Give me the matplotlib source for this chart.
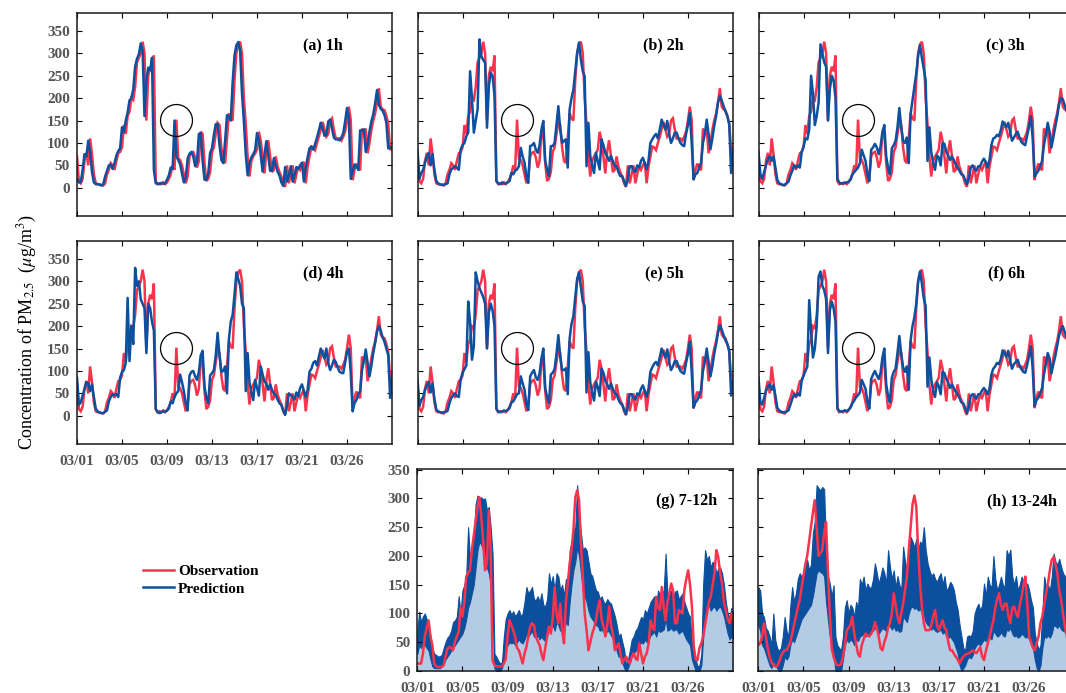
import numpy as np
import matplotlib
matplotlib.use("Agg")
import matplotlib.pyplot as plt
from matplotlib.lines import Line2D

# ---------------------------------------------------------------------------
# PM2.5 concentration (ug/m3), one value every 4 hours starting 03/01 00:00
# ---------------------------------------------------------------------------
STEP_HOURS = 4
tick_hours = [0, 96, 192, 288, 384, 480, 576]
tick_labels = ["03/01", "03/05", "03/09", "03/13", "03/17", "03/21", "03/26"]
y_ticks = [0, 50, 100, 150, 200, 250, 300, 350]

observation = [
    70, 15, 10, 20, 60, 78,
    50, 110, 75, 30, 10, 8,
    8, 6, 5, 10, 30, 40,
    55, 50, 40, 60, 77, 80,
    90, 140, 120, 160, 170, 200,
    196, 225, 280, 290, 300, 326,
    300, 150, 250, 270, 260, 295,
    15, 8, 10, 8, 12, 8,
    12, 20, 30, 50, 40, 152,
    65, 62, 50, 30, 10, 25,
    70, 78, 80, 68, 45, 60,
    125, 120, 55, 15, 20, 35,
    80, 90, 120, 145, 140, 90,
    60, 55, 110, 166, 155, 150,
    240, 300, 320, 326, 300, 200,
    143, 70, 25, 60, 70, 77,
    85, 125, 105, 70, 32, 80,
    106, 70, 35, 40, 70, 47,
    35, 25, 10, 2, 50, 10,
    30, 50, 10, 30, 47, 40,
    50, 58, 10, 47, 70, 92,
    90, 84, 100, 114, 130, 147,
    130, 114, 120, 150, 155, 130,
    110, 110, 110, 105, 114, 125,
    150, 181, 151, 17, 40, 54,
    45, 39, 132, 125, 132, 77,
    100, 129, 150, 166, 190, 222,
    181, 175, 173, 160, 143, 84, 92,
]

pred_1h = [
    20, 12, 12, 40, 75, 70,
    105, 80, 35, 12, 8, 8,
    7, 5, 8, 25, 38, 50,
    52, 42, 55, 72, 82, 88,
    135, 125, 150, 168, 195, 200,
    220, 270, 288, 298, 322, 305,
    160, 240, 268, 262, 290, 40,
    10, 9, 8, 11, 9, 10,
    18, 28, 45, 42, 150, 70,
    62, 52, 32, 12, 22, 65,
    76, 80, 70, 48, 58, 120,
    122, 60, 18, 18, 32, 78,
    88, 118, 142, 142, 95, 62,
    55, 105, 162, 158, 150, 235,
    295, 318, 325, 305, 210, 148,
    75, 28, 55, 68, 75, 84,
    122, 108, 72, 36, 75, 104,
    72, 38, 38, 66, 50, 36,
    27, 12, 4, 46, 14, 28,
    48, 14, 28, 46, 42, 50,
    56, 14, 45, 68, 88, 92,
    85, 98, 112, 128, 145, 132,
    116, 118, 148, 152, 132, 112,
    108, 108, 106, 112, 122, 148,
    178, 155, 20, 36, 52, 48,
    40, 128, 127, 130, 80, 98,
    126, 148, 164, 188, 218, 185,
    176, 172, 162, 145, 88, 90, 88,
]

pred_2h = [
    85, 20, 33, 40, 56, 70,
    78, 50, 75, 40, 15, 10,
    7, 7, 7, 8, 10, 30,
    41, 45, 48, 45, 40, 86,
    95, 100, 115, 123, 260, 200,
    123, 150, 175, 331, 294, 285,
    279, 134, 227, 257, 249, 205,
    15, 10, 8, 12, 9, 10,
    12, 15, 33, 30, 38, 41,
    48, 89, 70, 56, 25, 11,
    93, 95, 100, 85, 78, 95,
    130, 149, 60, 41, 26, 93,
    93, 100, 140, 182, 130, 100,
    105, 108, 45, 175, 200, 219,
    260, 300, 324, 286, 260, 249,
    48, 145, 71, 50, 33, 78,
    60, 41, 108, 95, 78, 70,
    60, 71, 60, 48, 48, 35,
    26, 26, 15, 4, 20, 48,
    48, 40, 35, 50, 45, 60,
    67, 55, 41, 60, 100, 108,
    115, 120, 110, 130, 152, 140,
    130, 149, 120, 100, 110, 123,
    123, 110, 100, 95, 93, 120,
    140, 167, 100, 19, 30, 33,
    45, 56, 100, 120, 152, 120,
    86, 110, 138, 160, 190, 205,
    195, 182, 170, 160, 141, 33, 86,
]

pred_3h = [
    80, 30, 20, 35, 50, 65,
    70, 60, 70, 45, 18, 10,
    8, 6, 7, 10, 14, 28,
    38, 50, 45, 50, 45, 80,
    92, 110, 108, 130, 250, 210,
    140, 160, 190, 320, 300, 280,
    270, 150, 220, 250, 240, 200,
    20, 12, 9, 11, 10, 12,
    14, 18, 30, 35, 40, 45,
    55, 85, 72, 60, 30, 15,
    85, 90, 98, 90, 75, 92,
    125, 140, 70, 45, 30, 88,
    95, 105, 135, 178, 135, 105,
    100, 112, 55, 165, 195, 225,
    255, 295, 318, 290, 265, 240,
    60, 135, 80, 55, 40, 72,
    68, 50, 100, 98, 80, 72,
    62, 70, 62, 52, 45, 38,
    30, 28, 18, 8, 22, 45,
    50, 42, 38, 48, 48, 58,
    65, 58, 45, 62, 95, 110,
    112, 118, 115, 128, 148, 142,
    135, 145, 125, 105, 112, 120,
    125, 112, 102, 98, 95, 115,
    135, 160, 110, 25, 32, 38,
    48, 60, 95, 118, 145, 125,
    90, 112, 135, 158, 185, 200,
    198, 185, 172, 165, 150, 170, 175,
]

pred_4h = [
    85, 25, 30, 45, 60, 75,
    72, 55, 70, 42, 16, 10,
    7, 6, 6, 9, 12, 32,
    42, 48, 46, 48, 42, 85,
    98, 102, 118, 263, 122, 200,
    160, 330, 290, 300, 260, 250,
    240, 140, 250, 240, 210, 190,
    15, 8, 6, 8, 10, 9,
    12, 16, 32, 28, 42, 50,
    55, 92, 75, 55, 28, 12,
    90, 98, 100, 88, 80, 98,
    135, 145, 65, 40, 28, 90,
    95, 102, 135, 185, 135, 98,
    100, 110, 50, 170, 210, 225,
    270, 320, 305, 290, 250, 240,
    55, 140, 75, 52, 35, 80,
    62, 45, 110, 92, 76, 72,
    58, 70, 58, 50, 46, 36,
    28, 24, 12, 2, 22, 50,
    46, 42, 36, 52, 44, 62,
    70, 55, 42, 58, 98, 105,
    118, 122, 112, 132, 150, 138,
    128, 150, 118, 102, 112, 125,
    120, 108, 98, 96, 95, 118,
    142, 150, 95, 10, 28, 35,
    48, 55, 102, 122, 148, 118,
    88, 112, 140, 162, 188, 200,
    190, 175, 165, 150, 135, 40, 85,
]

pred_5h = [
    82, 22, 35, 42, 58, 68,
    75, 52, 72, 38, 14, 10,
    8, 7, 8, 9, 11, 28,
    40, 46, 50, 44, 42, 82,
    96, 104, 112, 255, 210, 125,
    155, 320, 300, 285, 275, 265,
    250, 150, 230, 250, 235, 200,
    16, 9, 8, 10, 10, 11,
    13, 17, 30, 32, 40, 48,
    50, 88, 72, 58, 26, 13,
    88, 96, 102, 86, 80, 94,
    128, 150, 62, 42, 28, 92,
    96, 104, 138, 180, 132, 102,
    102, 106, 48, 172, 205, 222,
    265, 305, 320, 288, 255, 245,
    52, 142, 74, 52, 34, 76,
    64, 44, 105, 96, 78, 70,
    60, 72, 60, 50, 48, 36,
    28, 25, 14, 3, 20, 48,
    48, 40, 36, 50, 46, 60,
    68, 56, 42, 60, 98, 108,
    116, 120, 112, 130, 150, 140,
    130, 148, 120, 102, 110, 122,
    122, 110, 100, 96, 94, 118,
    138, 165, 98, 18, 30, 35,
    46, 58, 100, 120, 150, 120,
    88, 110, 138, 160, 185, 202,
    192, 180, 168, 160, 145, 45, 80,
]

pred_6h = [
    85, 30, 25, 40, 55, 65,
    70, 58, 68, 45, 18, 12,
    9, 8, 8, 10, 12, 25,
    38, 48, 44, 50, 45, 78,
    90, 100, 110, 258, 190, 130,
    150, 200, 310, 322, 290, 280,
    260, 140, 235, 255, 240, 210,
    18, 10, 9, 10, 12, 10,
    14, 18, 28, 34, 42, 46,
    52, 80, 70, 60, 30, 16,
    82, 92, 100, 90, 82, 96,
    130, 150, 70, 45, 30, 85,
    98, 105, 140, 178, 138, 108,
    98, 110, 58, 168, 200, 220,
    250, 300, 322, 295, 262, 245,
    65, 130, 82, 55, 42, 75,
    66, 48, 98, 95, 82, 74,
    62, 70, 62, 54, 48, 40,
    30, 28, 18, 6, 20, 44,
    48, 42, 38, 48, 48, 56,
    62, 56, 48, 60, 92, 105,
    110, 118, 115, 126, 146, 140,
    132, 145, 122, 105, 115, 120,
    125, 112, 104, 98, 96, 112,
    132, 155, 105, 22, 35, 40,
    50, 62, 92, 115, 140, 128,
    95, 115, 132, 155, 178, 192,
    200, 188, 175, 165, 150, 80, 160,
]

# 7-12h horizon: observation and the spread (low/high) of the predictions
obs_7_12h = [
    13, 13, 13, 30, 60, 75,
    88, 60, 45, 13, 8, 7,
    7, 7, 10, 25, 38, 42,
    40, 36, 50, 60, 68, 110,
    95, 120, 164, 170, 175, 210,
    235, 260, 285, 302, 268, 227,
    175, 187, 279, 210, 19, 10,
    8, 8, 8, 8, 13, 20,
    60, 88, 80, 71, 60, 40,
    36, 25, 13, 30, 42, 60,
    77, 83, 80, 60, 52, 45,
    30, 19, 40, 60, 77, 65,
    90, 146, 100, 83, 117, 70,
    48, 120, 152, 187, 210, 245,
    302, 314, 297, 222, 164, 100,
    71, 36, 50, 65, 75, 88,
    110, 123, 90, 77, 60, 80,
    112, 80, 65, 36, 42, 48,
    30, 13, 20, 25, 18, 13,
    25, 31, 22, 19, 48, 30,
    13, 25, 31, 48, 88, 75,
    71, 129, 110, 106, 146, 110,
    88, 120, 135, 152, 140, 83,
    83, 106, 103, 100, 141, 160,
    175, 150, 112, 42, 20, 19,
    40, 48, 60, 80, 100, 120,
    129, 150, 170, 210, 198, 170,
    152, 120, 106, 90, 83, 100, 88,
]

low_7_12h = [
    30, 45, 40, 50, 45, 40,
    35, 20, 8, 5, 5, 5,
    5, 8, 12, 20, 25, 30,
    35, 40, 45, 50, 55, 60,
    65, 75, 90, 110, 120, 135,
    150, 180, 210, 225, 220, 210,
    200, 180, 170, 150, 100, 5,
    0, 0, 0, 5, 20, 35,
    45, 50, 48, 50, 45, 50,
    55, 50, 48, 55, 65, 60,
    65, 70, 60, 58, 62, 55,
    60, 55, 52, 60, 80, 75,
    80, 70, 85, 80, 70, 75,
    70, 85, 80, 120, 150, 175,
    190, 215, 200, 170, 140, 130,
    120, 105, 95, 90, 85, 80,
    78, 70, 72, 68, 65, 70,
    68, 62, 55, 48, 35, 25,
    25, 15, 5, 0, 5, 15,
    25, 30, 35, 38, 45, 50,
    48, 55, 50, 55, 62, 65,
    68, 60, 72, 68, 70, 72,
    90, 70, 72, 75, 70, 72,
    72, 65, 68, 70, 62, 55,
    50, 45, 20, 10, 0, 0,
    0, 10, 60, 100, 110, 115,
    105, 110, 112, 105, 110, 112,
    105, 95, 80, 65, 55, 60, 55,
]

high_7_12h = [
    70, 103, 85, 95, 100, 90,
    83, 60, 40, 30, 28, 25,
    26, 28, 40, 50, 58, 62,
    70, 85, 88, 94, 130, 100,
    140, 150, 164, 250, 195, 215,
    233, 290, 305, 300, 302, 298,
    300, 280, 285, 250, 204, 30,
    25, 18, 13, 15, 60, 90,
    100, 106, 98, 104, 95, 100,
    106, 95, 100, 120, 146, 135,
    140, 146, 125, 123, 130, 120,
    135, 115, 112, 125, 170, 150,
    165, 140, 170, 164, 140, 150,
    130, 160, 135, 210, 225, 245,
    250, 323, 268, 240, 210, 215,
    210, 190, 170, 165, 152, 140,
    138, 125, 130, 120, 117, 125,
    120, 117, 106, 95, 80, 60,
    65, 50, 36, 10, 20, 36,
    55, 60, 70, 75, 85, 94,
    90, 106, 100, 110, 120, 125,
    130, 115, 140, 130, 135, 140,
    204, 129, 135, 140, 130, 138,
    140, 125, 130, 135, 120, 110,
    100, 94, 48, 36, 20, 8,
    10, 30, 152, 210, 193, 200,
    180, 190, 185, 170, 178, 180,
    170, 150, 120, 100, 94, 110, 100,
]

# 13-24h horizon
obs_13_24h = [
    45, 48, 60, 83, 60, 40,
    25, 15, 10, 8, 8, 15,
    25, 32, 36, 36, 42, 50,
    65, 80, 95, 110, 123, 145,
    165, 185, 200, 225, 250, 275,
    297, 250, 200, 205, 210, 240,
    259, 175, 100, 40, 25, 15,
    10, 10, 12, 25, 45, 70,
    75, 80, 94, 65, 48, 30,
    25, 45, 55, 65, 62, 60,
    65, 71, 85, 75, 60, 40,
    36, 50, 60, 75, 83, 100,
    135, 115, 95, 83, 100, 117,
    140, 164, 210, 250, 290, 305,
    285, 210, 152, 110, 83, 71,
    71, 71, 80, 94, 106, 80,
    71, 80, 88, 75, 71, 50,
    36, 36, 30, 25, 20, 13,
    20, 25, 28, 30, 31, 33,
    36, 33, 31, 36, 42, 25,
    19, 35, 48, 60, 75, 88,
    110, 125, 135, 115, 106, 117,
    117, 95, 83, 110, 112, 100,
    94, 115, 129, 150, 164, 117,
    60, 50, 40, 36, 48, 60,
    83, 95, 115, 135, 152, 175,
    193, 198, 185, 170, 140, 123,
    100, 77, 60, 50, 45, 40, 40,
]

low_13_24h = [
    80, 70, 45, 40, 30, 20,
    10, 5, 20, 10, 5, 0,
    0, 10, 25, 20, 25, 45,
    55, 50, 60, 70, 80, 90,
    95, 100, 105, 110, 115, 130,
    150, 170, 175, 172, 170, 165,
    120, 90, 60, 40, 30, 0,
    0, 0, 0, 20, 45, 55,
    50, 55, 52, 45, 55, 52,
    60, 62, 65, 60, 65, 62,
    68, 70, 75, 72, 65, 70,
    75, 72, 70, 80, 78, 72,
    78, 70, 72, 68, 70, 95,
    90, 85, 100, 110, 112, 108,
    110, 105, 108, 100, 95, 85,
    80, 78, 72, 75, 70, 68,
    70, 72, 65, 68, 60, 58,
    60, 55, 50, 40, 30, 10,
    0, 5, 10, 20, 25, 22,
    28, 40, 45, 48, 45, 50,
    55, 52, 60, 58, 55, 70,
    65, 60, 62, 68, 62, 60,
    72, 70, 75, 65, 60, 62,
    58, 60, 65, 62, 58, 60,
    55, 48, 40, 20, 5, 0,
    10, 40, 60, 58, 62, 58,
    65, 80, 78, 75, 80, 72,
    70, 68, 65, 62, 60, 58, 55,
]

high_13_24h = [
    146, 140, 100, 94, 75, 70,
    60, 45, 100, 54, 40, 35,
    40, 60, 94, 70, 60, 112,
    146, 120, 135, 160, 170, 164,
    170, 190, 193, 175, 185, 239,
    260, 323, 318, 314, 320, 316,
    210, 165, 152, 130, 149, 60,
    45, 40, 36, 60, 110, 123,
    100, 115, 110, 94, 120, 110,
    160, 150, 164, 140, 152, 145,
    145, 160, 187, 170, 152, 165,
    180, 170, 152, 210, 181, 160,
    175, 145, 165, 150, 140, 216,
    190, 175, 210, 233, 225, 215,
    230, 210, 225, 220, 250, 210,
    187, 175, 165, 170, 160, 155,
    164, 170, 150, 165, 140, 145,
    155, 150, 140, 120, 106, 80,
    60, 40, 36, 60, 62, 60,
    70, 100, 110, 117, 105, 115,
    152, 130, 164, 150, 145, 200,
    160, 140, 150, 164, 150, 145,
    210, 200, 211, 164, 150, 165,
    140, 150, 164, 155, 150, 152,
    140, 123, 110, 65, 50, 36,
    45, 100, 164, 145, 150, 140,
    164, 204, 190, 185, 195, 181,
    170, 165, 160, 155, 150, 145, 140,
]

# index of the isolated observed spike that is circled in panels (a)-(f)
SPIKE_INDEX = 53

# ---------------------------------------------------------------------------
hours = np.arange(len(observation)) * STEP_HOURS

RED = "#f8334b"
BLUE = "#0c50a0"
BAND_DARK = "#0b4f9e"
BAND_LIGHT = "#b3cbe5"
TICK_GREY = "#555555"

plt.rcParams["font.family"] = ["Liberation Serif", "DejaVu Serif"]
plt.rcParams["mathtext.fontset"] = "stix"

W, H = 1066, 693
fig = plt.figure(figsize=(W / 100, H / 100), dpi=100)


def add_axes(left, top, right, bottom):
    return fig.add_axes([left / W, 1 - bottom / H, (right - left) / W, (bottom - top) / H])


def style(ax, ylim, xlabels, ylabels):
    ax.set_xlim(0, 672)
    ax.set_ylim(*ylim)
    ax.set_xticks(tick_hours)
    ax.set_yticks(y_ticks)
    if xlabels:
        ax.set_xticklabels(tick_labels, fontweight="bold")
    else:
        ax.set_xticklabels([])
    if ylabels:
        ax.set_yticklabels([str(v) for v in y_ticks], fontweight="bold")
    else:
        ax.set_yticklabels([])
    ax.tick_params(direction="in", top=True, right=True, length=3.5, width=0.8,
                   color="black", labelcolor=TICK_GREY, labelsize=11)
    ax.tick_params(axis="x", pad=8)
    ax.tick_params(axis="y", pad=5)
    for sp in ax.spines.values():
        sp.set_linewidth(1.1)
        sp.set_color("#1a1a1a")


def panel_title(ax, text, xr):
    ax.text(xr, 0.84, text, transform=ax.transAxes, ha="right", va="center",
            fontsize=11.5, fontweight="bold")


line_panels = [
    ("(a) 1h", pred_1h, (77, 13, 392, 216), False, True),
    ("(b) 2h", pred_2h, (417.5, 13, 733, 216), False, False),
    ("(c) 3h", pred_3h, (758.5, 13, 1074, 216), False, False),
    ("(d) 4h", pred_4h, (77, 241, 392, 444), True, True),
    ("(e) 5h", pred_5h, (417.5, 241, 733, 444), False, False),
    ("(f) 6h", pred_6h, (758.5, 241, 1074, 444), False, False),
]

for title, pred, box, xl, yl in line_panels:
    ax = add_axes(*box)
    ax.plot(hours, observation, color=RED, lw=1.8, solid_joinstyle="miter")
    ax.plot(hours, pred, color=BLUE, lw=1.8)
    ax.plot(hours[SPIKE_INDEX], observation[SPIKE_INDEX], marker="o", ms=23,
            mfc="none", mec="black", mew=0.9, zorder=5)
    style(ax, (-63, 390), xl, yl)
    panel_title(ax, title, 0.845)

band_panels = [
    ("(g) 7-12h", obs_7_12h, low_7_12h, high_7_12h, (417.3, 468.5, 733.3, 671), True, 0.948),
    ("(h) 13-24h", obs_13_24h, low_13_24h, high_13_24h, (758.3, 468.5, 1074.3, 671), False, 0.944),
]

for title, obs, low, high, box, yl, xr in band_panels:
    ax = add_axes(*box)
    ax.fill_between(hours, 0, low, color=BAND_LIGHT, lw=0)
    ax.fill_between(hours, low, high, color=BAND_DARK, edgecolor=BAND_DARK, lw=0.8)
    ax.plot(hours, obs, color=RED, lw=1.8)
    style(ax, (0, 352), True, yl)
    panel_title(ax, title, xr)

fig.text(27 / W, 1 - 332 / H, r"Concentration of PM$_{2.5}$  ($\mu$g/m$^3$)",
         rotation=90, ha="center", va="center", fontsize=13)

handles = [Line2D([], [], color=RED, lw=1.8), Line2D([], [], color=BLUE, lw=1.8)]
fig.legend(handles, ["Observation", "Prediction"], loc="center left",
           bbox_to_anchor=(143 / W, 1 - 580 / H), frameon=False,
           prop={"weight": "bold", "size": 11}, handlelength=2.0,
           handletextpad=0.3, labelspacing=0.25, borderpad=0, borderaxespad=0)

fig.savefig("out.png", dpi=100)
